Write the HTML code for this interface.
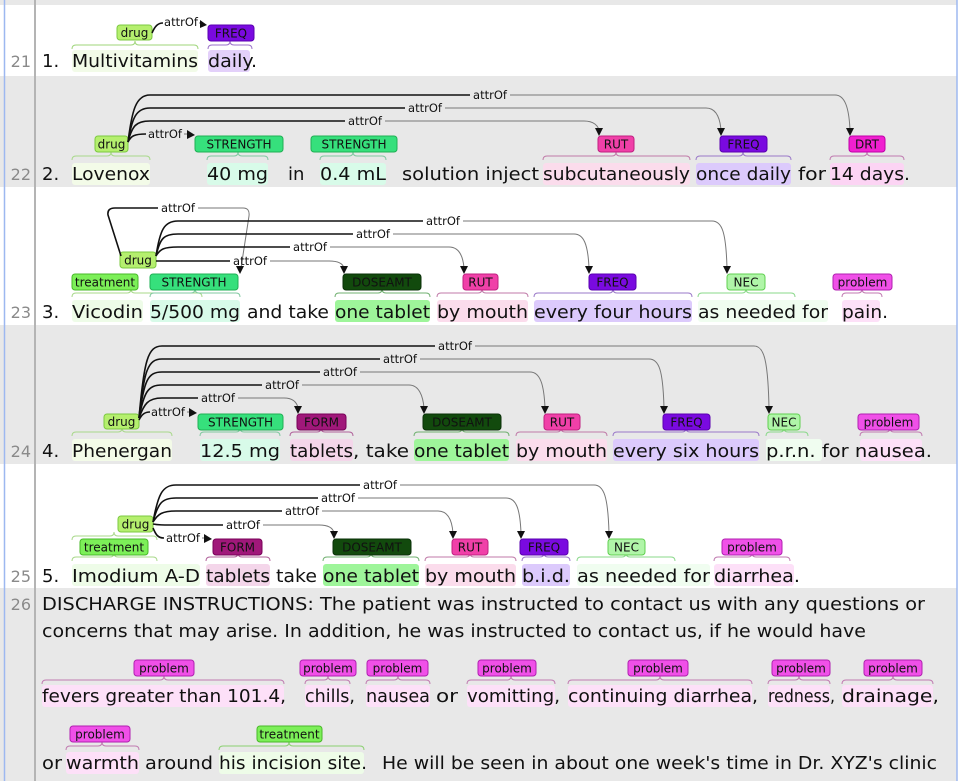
<!DOCTYPE html>
<html><head><meta charset="utf-8"><style>
html,body{margin:0;padding:0;background:#fff;width:975px;height:781px;overflow:hidden}
svg{display:block}
.t{font-family:"DejaVu Sans","Liberation Sans",sans-serif;font-size:18px;fill:#111}
.n{font-family:"DejaVu Sans","Liberation Sans",sans-serif;font-size:16px;fill:#8a8a8a}
.l{font-family:"DejaVu Sans","Liberation Sans",sans-serif;font-size:12px;fill:#111;text-anchor:middle}
.a{font-family:"DejaVu Sans","Liberation Sans",sans-serif;font-size:11.5px;fill:#111;text-anchor:middle}
.b{fill:none;stroke:#111;stroke-width:1.6}
.g{fill:none;stroke:#777;stroke-width:1}
.br{fill:none;stroke-width:1}
</style></head><body>
<svg width="975" height="781" viewBox="0 0 975 781" xmlns="http://www.w3.org/2000/svg">
<rect x="0" y="0" width="975" height="781" fill="#fff"/>
<rect x="0" y="0" width="957" height="5" fill="#e8e8e8"/>
<rect x="0" y="76" width="957" height="111" fill="#e8e8e8"/>
<rect x="0" y="325" width="957" height="139" fill="#e8e8e8"/>
<rect x="0" y="588" width="957" height="193" fill="#e8e8e8"/>
<line x1="4.5" y1="0" x2="4.5" y2="781" stroke="#9db8f0" stroke-width="1.5"/>
<line x1="957" y1="0" x2="957" y2="781" stroke="#9db8f0" stroke-width="1.5"/>
<line x1="35" y1="0" x2="35" y2="781" stroke="#b4b4b4" stroke-width="2"/>

<text class="n" x="31" y="67" text-anchor="end">21</text>
<text class="n" x="31" y="180" text-anchor="end">22</text>
<text class="n" x="31" y="318" text-anchor="end">23</text>
<text class="n" x="31" y="457" text-anchor="end">24</text>
<text class="n" x="31" y="582" text-anchor="end">25</text>
<text class="n" x="31" y="610" text-anchor="end">26</text>

<!-- ROW 21 -->
<rect x="72" y="50" width="126" height="22" fill="#f2fbe8" rx="3"/>
<rect x="208" y="50" width="42" height="22" fill="#e3d0fa" rx="3"/>
<path class="br" stroke="#9fd57a" d="M72 49 Q72 45 76 45 L131 45 Q135 45 135 41 Q135 45 139 45 L194 45 Q198 45 198 49"/>
<path class="br" stroke="#9a70c8" d="M208 49 Q208 45 212 45 L226 45 Q230 45 230 41 Q230 45 234 45 L248 45 Q252 45 252 49"/>
<rect x="117" y="25" width="35" height="15" rx="3" fill="#b5ef6e" stroke="#7cc940"/>
<text class="l" x="134.5" y="37">drug</text>
<rect x="208" y="25" width="46" height="16" rx="3" fill="#7a0ae0" stroke="#5a00b0"/>
<text class="l" x="231" y="37.5">FREQ</text>
<path class="b" d="M152 33 C155 26 158 23 163 23"/>
<text class="a" x="181" y="26">attrOf</text>
<path class="g" d="M199 23 L202 23"/>
<polygon points="200,20 207,25 200,28" fill="#111"/>
<text class="t" x="42" y="67">1.</text>
<text class="t" x="72" y="67" textLength="126" lengthAdjust="spacingAndGlyphs">Multivitamins</text>
<text class="t" x="208" y="67" textLength="49" lengthAdjust="spacingAndGlyphs">daily.</text>

<!-- ROW 22 -->
<rect x="72" y="163" width="78" height="22" fill="#f3fbe8" rx="3"/>
<rect x="207" y="163" width="61" height="22" fill="#d8fbe9" rx="3"/>
<rect x="320" y="163" width="66" height="22" fill="#d8fbe9" rx="3"/>
<rect x="543" y="163" width="147" height="22" fill="#fbdcec" rx="3"/>
<rect x="696" y="163" width="95" height="22" fill="#dccafc" rx="3"/>
<rect x="830" y="163" width="74" height="22" fill="#fcd4f4" rx="3"/>
<path class="br" stroke="#a8d88a" d="M72 160 Q72 156 76 156 L107 156 Q111 156 111 152 Q111 156 115 156 L146 156 Q150 156 150 160"/>
<path class="br" stroke="#80c8a0" d="M207 160 Q207 156 211 156 L234 156 Q238 156 238 152 Q238 156 242 156 L264 156 Q268 156 268 160"/>
<path class="br" stroke="#80c8a0" d="M320 160 Q320 156 324 156 L349 156 Q353 156 353 152 Q353 156 357 156 L382 156 Q386 156 386 160"/>
<path class="br" stroke="#c07aa8" d="M543 160 Q543 156 547 156 L612 156 Q616 156 616 152 Q616 156 620 156 L686 156 Q690 156 690 160"/>
<path class="br" stroke="#9a78c8" d="M696 160 Q696 156 700 156 L739 156 Q743 156 743 152 Q743 156 747 156 L787 156 Q791 156 791 160"/>
<path class="br" stroke="#c07ab0" d="M830 160 Q830 156 834 156 L863 156 Q867 156 867 152 Q867 156 871 156 L900 156 Q904 156 904 160"/>
<rect x="95" y="136" width="33" height="16" rx="3" fill="#b5ef6e" stroke="#7cc940"/>
<text class="l" x="111.5" y="148.5">drug</text>
<rect x="195" y="136" width="88" height="16" rx="3" fill="#36e07c" stroke="#1fb054"/>
<text class="l" x="239" y="148.5">STRENGTH</text>
<rect x="311" y="136" width="86" height="16" rx="3" fill="#36e07c" stroke="#1fb054"/>
<text class="l" x="354" y="148.5">STRENGTH</text>
<rect x="598" y="136" width="36" height="16" rx="3" fill="#f040a8" stroke="#c02080"/>
<text class="l" x="616" y="148.5">RUT</text>
<rect x="720" y="136" width="47" height="16" rx="3" fill="#7a0ae0" stroke="#5a00b0"/>
<text class="l" x="743.5" y="148.5">FREQ</text>
<rect x="849" y="136" width="36" height="16" rx="3" fill="#f020d0" stroke="#c000a8"/>
<text class="l" x="867" y="148.5">DRT</text>
<path class="b" d="M128 142 C132 110 136 95 150 95 L470 95"/>
<text class="a" x="490" y="99">attrOf</text>
<path class="g" d="M510 95 L835 95 C845 95 849 108 850 130"/>
<polygon points="846,128 854,128 850,136" fill="#111"/>
<path class="b" d="M128 142 C132 118 136 108 150 108 L405 108"/>
<text class="a" x="425" y="112">attrOf</text>
<path class="g" d="M445 108 L706 108 C716 108 720 118 721 130"/>
<polygon points="717,128 725,128 721,136" fill="#111"/>
<path class="b" d="M128 142 C132 126 136 121 150 121 L345 121"/>
<text class="a" x="365" y="125">attrOf</text>
<path class="g" d="M385 121 L584 121 C594 121 598 126 599 130"/>
<polygon points="595,128 603,128 599,136" fill="#111"/>
<path class="b" d="M128 142 C131 136 134 134 146 134"/>
<text class="a" x="165" y="138">attrOf</text>
<path class="g" d="M184 134 L188 134"/>
<polygon points="187,130 195,135 187,139" fill="#111"/>
<text class="t" x="42" y="180">2.</text>
<text class="t" x="72" y="180" textLength="78" lengthAdjust="spacingAndGlyphs">Lovenox</text>
<text class="t" x="207" y="180" textLength="61" lengthAdjust="spacingAndGlyphs">40 mg</text>
<text class="t" x="288" y="180">in</text>
<text class="t" x="320" y="180" textLength="66" lengthAdjust="spacingAndGlyphs">0.4 mL</text>
<text class="t" x="402" y="180" textLength="137" lengthAdjust="spacingAndGlyphs">solution inject</text>
<text class="t" x="543" y="180" textLength="147" lengthAdjust="spacingAndGlyphs">subcutaneously</text>
<text class="t" x="696" y="180" textLength="95" lengthAdjust="spacingAndGlyphs">once daily</text>
<text class="t" x="798" y="180" textLength="28" lengthAdjust="spacingAndGlyphs">for</text>
<text class="t" x="830" y="180" textLength="80" lengthAdjust="spacingAndGlyphs">14 days.</text>

<!-- ROW 23 -->
<rect x="72" y="300" width="71" height="22" fill="#eefce8" rx="3"/>
<rect x="150" y="300" width="90" height="22" fill="#d8fbe9" rx="3"/>
<rect x="335" y="300" width="95" height="22" fill="#9ef59a" rx="3"/>
<rect x="437" y="300" width="91" height="22" fill="#fbdcec" rx="3"/>
<rect x="534" y="300" width="158" height="22" fill="#dccafc" rx="3"/>
<rect x="698" y="300" width="130" height="22" fill="#f0fdf0" rx="3"/>
<rect x="842" y="300" width="38" height="22" fill="#fde0f8" rx="3"/>
<path class="br" stroke="#a8d88a" d="M72 297 Q72 293 76 293 L127 293 Q131 293 131 289 Q131 293 135 293 L198 293 Q202 293 202 297"/>
<path class="br" stroke="#80c8a0" d="M150 297 Q150 293 154 293 L191 293 Q195 293 195 289 Q195 293 199 293 L236 293 Q240 293 240 297"/>
<path class="br" stroke="#70b070" d="M335 297 Q335 293 339 293 L378 293 Q382 293 382 289 Q382 293 386 293 L426 293 Q430 293 430 297"/>
<path class="br" stroke="#c07aa8" d="M437 297 Q437 293 441 293 L478 293 Q482 293 482 289 Q482 293 486 293 L524 293 Q528 293 528 297"/>
<path class="br" stroke="#9a78c8" d="M534 297 Q534 293 538 293 L609 293 Q613 293 613 289 Q613 293 617 293 L688 293 Q692 293 692 297"/>
<path class="br" stroke="#8ad88a" d="M698 297 Q698 293 702 293 L742 293 Q746 293 746 289 Q746 293 750 293 L791 293 Q795 293 795 297"/>
<path class="br" stroke="#c07ab0" d="M842 297 Q842 293 846 293 L858 293 Q862 293 862 289 Q862 293 866 293 L878 293 Q882 293 882 297"/>
<rect x="72" y="274" width="66" height="16" rx="3" fill="#7cef58" stroke="#48b828"/>
<text class="l" x="105" y="286.5">treatment</text>
<rect x="120" y="252" width="36" height="16" rx="3" fill="#b5ef6e" stroke="#7cc940"/>
<text class="l" x="138" y="264.5">drug</text>
<rect x="150" y="274" width="88" height="16" rx="3" fill="#36e07c" stroke="#1fb054"/>
<text class="l" x="194" y="286.5">STRENGTH</text>
<rect x="343" y="274" width="78" height="16" rx="3" fill="#124a0d" stroke="#0a3008"/>
<text class="l" x="382" y="286.5">DOSEAMT</text>
<rect x="463" y="274" width="35" height="16" rx="3" fill="#f040a8" stroke="#c02080"/>
<text class="l" x="480.5" y="286.5">RUT</text>
<rect x="589" y="274" width="47" height="16" rx="3" fill="#7a0ae0" stroke="#5a00b0"/>
<text class="l" x="612.5" y="286.5">FREQ</text>
<rect x="727" y="274" width="38" height="16" rx="3" fill="#b0f5a8" stroke="#60d050"/>
<text class="l" x="746" y="286.5">NEC</text>
<rect x="833" y="274" width="59" height="16" rx="3" fill="#f050e8" stroke="#b020b0"/>
<text class="l" x="862.5" y="286.5">problem</text>
<path class="b" d="M121 256 L108 215 Q107 208 115 208 L158 208"/>
<text class="a" x="178" y="212">attrOf</text>
<path class="g" d="M198 208 L243 208 Q250 208 249 216 L241 268"/>
<polygon points="236,266 244,266 240,274" fill="#111"/>
<path class="b" d="M156 256 C160 230 164 221 178 221 L423 221"/>
<text class="a" x="443" y="225">attrOf</text>
<path class="g" d="M463 221 L712 221 C722 221 726 232 727 268"/>
<polygon points="723,266 731,266 727,274" fill="#111"/>
<path class="b" d="M156 256 C160 238 164 234 178 234 L353 234"/>
<text class="a" x="373" y="238">attrOf</text>
<path class="g" d="M393 234 L574 234 C584 234 588 245 589 268"/>
<polygon points="585,266 593,266 589,274" fill="#111"/>
<path class="b" d="M156 256 C160 249 164 247 178 247 L290 247"/>
<text class="a" x="310" y="251">attrOf</text>
<path class="g" d="M330 247 L449 247 C459 247 463 256 464 268"/>
<polygon points="460,266 468,266 464,274" fill="#111"/>
<path class="b" d="M156 261 L230 261"/>
<text class="a" x="250" y="265">attrOf</text>
<path class="g" d="M270 261 L329 261 C339 261 343 264 344 268"/>
<polygon points="340,266 348,266 344,274" fill="#111"/>
<text class="t" x="42" y="318">3.</text>
<text class="t" x="72" y="318" textLength="71" lengthAdjust="spacingAndGlyphs">Vicodin</text>
<text class="t" x="150" y="318" textLength="90" lengthAdjust="spacingAndGlyphs">5/500 mg</text>
<text class="t" x="247" y="318" textLength="82" lengthAdjust="spacingAndGlyphs">and take</text>
<text class="t" x="335" y="318" textLength="95" lengthAdjust="spacingAndGlyphs">one tablet</text>
<text class="t" x="437" y="318" textLength="91" lengthAdjust="spacingAndGlyphs">by mouth</text>
<text class="t" x="534" y="318" textLength="158" lengthAdjust="spacingAndGlyphs">every four hours</text>
<text class="t" x="698" y="318" textLength="130" lengthAdjust="spacingAndGlyphs">as needed for</text>
<text class="t" x="842" y="318" textLength="46" lengthAdjust="spacingAndGlyphs">pain.</text>

<!-- ROW 24 -->
<rect x="72" y="439" width="100" height="22" fill="#f3fbe8" rx="3"/>
<rect x="200" y="439" width="80" height="22" fill="#d8fbe9" rx="3"/>
<rect x="290" y="439" width="63" height="22" fill="#f4d6ea" rx="3"/>
<rect x="414" y="439" width="95" height="22" fill="#9ef59a" rx="3"/>
<rect x="516" y="439" width="91" height="22" fill="#fbdcec" rx="3"/>
<rect x="613" y="439" width="146" height="22" fill="#dccafc" rx="3"/>
<rect x="766" y="439" width="56" height="22" fill="#f0fdf0" rx="3"/>
<rect x="860" y="439" width="62" height="22" fill="#fde0f8" rx="3"/>
<path class="br" stroke="#a8d88a" d="M72 436 Q72 432 76 432 L118 432 Q122 432 122 428 Q122 432 126 432 L168 432 Q172 432 172 436"/>
<path class="br" stroke="#80c8a0" d="M200 436 Q200 432 204 432 L236 432 Q240 432 240 428 Q240 432 244 432 L276 432 Q280 432 280 436"/>
<path class="br" stroke="#b0609a" d="M290 436 Q290 432 294 432 L317 432 Q321 432 321 428 Q321 432 325 432 L349 432 Q353 432 353 436"/>
<path class="br" stroke="#70b070" d="M414 436 Q414 432 418 432 L458 432 Q462 432 462 428 Q462 432 466 432 L505 432 Q509 432 509 436"/>
<path class="br" stroke="#c07aa8" d="M516 436 Q516 432 520 432 L557 432 Q561 432 561 428 Q561 432 565 432 L603 432 Q607 432 607 436"/>
<path class="br" stroke="#9a78c8" d="M613 436 Q613 432 617 432 L682 432 Q686 432 686 428 Q686 432 690 432 L755 432 Q759 432 759 436"/>
<path class="br" stroke="#8ad88a" d="M766 436 Q766 432 770 432 L780 432 Q784 432 784 428 Q784 432 788 432 L804 432 Q808 432 808 436"/>
<path class="br" stroke="#c07ab0" d="M860 436 Q860 432 864 432 L886 432 Q890 432 890 428 Q890 432 894 432 L918 432 Q922 432 922 436"/>
<rect x="104" y="414" width="35" height="15" rx="3" fill="#b5ef6e" stroke="#7cc940"/>
<text class="l" x="121.5" y="426">drug</text>
<rect x="198" y="414" width="85" height="16" rx="3" fill="#36e07c" stroke="#1fb054"/>
<text class="l" x="240.5" y="426.5">STRENGTH</text>
<rect x="297" y="414" width="49" height="16" rx="3" fill="#a0187a" stroke="#780058"/>
<text class="l" x="321.5" y="426.5">FORM</text>
<rect x="423" y="414" width="78" height="16" rx="3" fill="#124a0d" stroke="#0a3008"/>
<text class="l" x="462" y="426.5">DOSEAMT</text>
<rect x="544" y="414" width="36" height="16" rx="3" fill="#f040a8" stroke="#c02080"/>
<text class="l" x="562" y="426.5">RUT</text>
<rect x="663" y="414" width="47" height="16" rx="3" fill="#7a0ae0" stroke="#5a00b0"/>
<text class="l" x="686.5" y="426.5">FREQ</text>
<rect x="768" y="414" width="32" height="16" rx="3" fill="#b0f5a8" stroke="#60d050"/>
<text class="l" x="784" y="426.5">NEC</text>
<rect x="858" y="414" width="61" height="16" rx="3" fill="#f050e8" stroke="#b020b0"/>
<text class="l" x="888.5" y="426.5">problem</text>
<path class="b" d="M139 418 C144 360 148 346 162 346 L435 346"/>
<text class="a" x="455" y="350">attrOf</text>
<path class="g" d="M475 346 L754 346 C764 346 768 360 769 408"/>
<polygon points="765,406 773,406 769,414" fill="#111"/>
<path class="b" d="M139 418 C144 370 148 359 162 359 L380 359"/>
<text class="a" x="400" y="363">attrOf</text>
<path class="g" d="M420 359 L649 359 C659 359 663 370 664 408"/>
<polygon points="660,406 668,406 664,414" fill="#111"/>
<path class="b" d="M139 418 C144 380 148 372 162 372 L320 372"/>
<text class="a" x="340" y="376">attrOf</text>
<path class="g" d="M360 372 L530 372 C540 372 544 384 545 408"/>
<polygon points="541,406 549,406 545,414" fill="#111"/>
<path class="b" d="M139 418 C144 392 148 385 162 385 L262 385"/>
<text class="a" x="282" y="389">attrOf</text>
<path class="g" d="M302 385 L409 385 C419 385 423 396 424 408"/>
<polygon points="420,406 428,406 424,414" fill="#111"/>
<path class="b" d="M139 418 C144 404 148 398 162 398 L198 398"/>
<text class="a" x="218" y="402">attrOf</text>
<path class="g" d="M238 398 L284 398 C294 398 297 403 298 408"/>
<polygon points="294,406 302,406 298,414" fill="#111"/>
<path class="b" d="M139 420 C142 414 145 412 150 412"/>
<text class="a" x="168" y="416">attrOf</text>
<path class="g" d="M187 412 L190 412"/>
<polygon points="189,408 197,413 189,417" fill="#111"/>
<text class="t" x="42" y="457">4.</text>
<text class="t" x="72" y="457" textLength="100" lengthAdjust="spacingAndGlyphs">Phenergan</text>
<text class="t" x="200" y="457" textLength="80" lengthAdjust="spacingAndGlyphs">12.5 mg</text>
<text class="t" x="290" y="457" textLength="63" lengthAdjust="spacingAndGlyphs">tablets</text>
<text class="t" x="353" y="457" textLength="56" lengthAdjust="spacingAndGlyphs">, take</text>
<text class="t" x="414" y="457" textLength="95" lengthAdjust="spacingAndGlyphs">one tablet</text>
<text class="t" x="516" y="457" textLength="91" lengthAdjust="spacingAndGlyphs">by mouth</text>
<text class="t" x="613" y="457" textLength="146" lengthAdjust="spacingAndGlyphs">every six hours</text>
<text class="t" x="766" y="457" textLength="166" lengthAdjust="spacingAndGlyphs">p.r.n. for nausea.</text>

<!-- ROW 25 -->
<rect x="72" y="564" width="128" height="22" fill="#eefce8" rx="3"/>
<rect x="206" y="564" width="64" height="22" fill="#f4d6ea" rx="3"/>
<rect x="323" y="564" width="96" height="22" fill="#9ef59a" rx="3"/>
<rect x="425" y="564" width="91" height="22" fill="#fbdcec" rx="3"/>
<rect x="522" y="564" width="48" height="22" fill="#dccafc" rx="3"/>
<rect x="577" y="564" width="133" height="22" fill="#f0fdf0" rx="3"/>
<rect x="714" y="564" width="80" height="22" fill="#fde0f8" rx="3"/>
<path class="br" stroke="#a8d88a" d="M72 561 Q72 557 76 557 L110 557 Q114 557 114 553 Q114 557 118 557 L153 557 Q157 557 157 561"/>
<path class="br" stroke="#a8d88a" d="M72 540 Q72 536 76 536 L110 536 Q114 536 114 532 Q114 536 118 536 L153 536 Q157 536 157 540"/>
<path class="br" stroke="#b0609a" d="M206 561 Q206 557 210 557 L234 557 Q238 557 238 553 Q238 557 242 557 L266 557 Q270 557 270 561"/>
<path class="br" stroke="#70b070" d="M323 561 Q323 557 327 557 L367 557 Q371 557 371 553 Q371 557 375 557 L415 557 Q419 557 419 561"/>
<path class="br" stroke="#c07aa8" d="M425 561 Q425 557 429 557 L466 557 Q470 557 470 553 Q470 557 474 557 L512 557 Q516 557 516 561"/>
<path class="br" stroke="#9a78c8" d="M522 561 Q522 557 526 557 L540 557 Q544 557 544 553 Q544 557 548 557 L566 557 Q570 557 570 561"/>
<path class="br" stroke="#8ad88a" d="M577 561 Q577 557 581 557 L622 557 Q626 557 626 553 Q626 557 630 557 L671 557 Q675 557 675 561"/>
<path class="br" stroke="#c07ab0" d="M714 561 Q714 557 718 557 L748 557 Q752 557 752 553 Q752 557 756 557 L786 557 Q790 557 790 561"/>
<rect x="118" y="516" width="35" height="16" rx="3" fill="#b5ef6e" stroke="#7cc940"/>
<text class="l" x="135.5" y="528.5">drug</text>
<rect x="80" y="539" width="68" height="16" rx="3" fill="#7cef58" stroke="#48b828"/>
<text class="l" x="114" y="551.5">treatment</text>
<rect x="213" y="539" width="49" height="16" rx="3" fill="#a0187a" stroke="#780058"/>
<text class="l" x="237.5" y="551.5">FORM</text>
<rect x="333" y="539" width="78" height="16" rx="3" fill="#124a0d" stroke="#0a3008"/>
<text class="l" x="372" y="551.5">DOSEAMT</text>
<rect x="452" y="539" width="36" height="16" rx="3" fill="#f040a8" stroke="#c02080"/>
<text class="l" x="470" y="551.5">RUT</text>
<rect x="520" y="539" width="48" height="16" rx="3" fill="#7a0ae0" stroke="#5a00b0"/>
<text class="l" x="544" y="551.5">FREQ</text>
<rect x="608" y="539" width="37" height="16" rx="3" fill="#b0f5a8" stroke="#60d050"/>
<text class="l" x="626.5" y="551.5">NEC</text>
<rect x="722" y="539" width="60" height="16" rx="3" fill="#f050e8" stroke="#b020b0"/>
<text class="l" x="752" y="551.5">problem</text>
<path class="b" d="M153 522 C158 495 162 485 176 485 L360 485"/>
<text class="a" x="380" y="489">attrOf</text>
<path class="g" d="M400 485 L594 485 C604 485 608 497 609 533"/>
<polygon points="605,531 613,531 609,539" fill="#111"/>
<path class="b" d="M153 522 C158 503 162 498 176 498 L318 498"/>
<text class="a" x="338" y="502">attrOf</text>
<path class="g" d="M358 498 L506 498 C516 498 520 508 521 533"/>
<polygon points="517,531 525,531 521,539" fill="#111"/>
<path class="b" d="M153 522 C158 514 162 511 176 511 L282 511"/>
<text class="a" x="302" y="515">attrOf</text>
<path class="g" d="M322 511 L438 511 C448 511 452 520 453 533"/>
<polygon points="449,531 457,531 453,539" fill="#111"/>
<path class="b" d="M153 524 C158 525 162 525 176 525 L223 525"/>
<text class="a" x="243" y="529">attrOf</text>
<path class="g" d="M263 525 L319 525 C329 525 333 528 334 533"/>
<polygon points="330,531 338,531 334,539" fill="#111"/>
<path class="b" d="M153 528 C156 535 158 538 164 538"/>
<text class="a" x="183" y="542">attrOf</text>
<path class="g" d="M202 538 L204 538"/>
<polygon points="204,534 212,539 204,543" fill="#111"/>
<text class="t" x="42" y="582">5.</text>
<text class="t" x="72" y="582" textLength="128" lengthAdjust="spacingAndGlyphs">Imodium A-D</text>
<text class="t" x="206" y="582" textLength="64" lengthAdjust="spacingAndGlyphs">tablets</text>
<text class="t" x="276" y="582" textLength="41" lengthAdjust="spacingAndGlyphs">take</text>
<text class="t" x="323" y="582" textLength="96" lengthAdjust="spacingAndGlyphs">one tablet</text>
<text class="t" x="425" y="582" textLength="91" lengthAdjust="spacingAndGlyphs">by mouth</text>
<text class="t" x="522" y="582" textLength="48" lengthAdjust="spacingAndGlyphs">b.i.d.</text>
<text class="t" x="577" y="582" textLength="133" lengthAdjust="spacingAndGlyphs">as needed for</text>
<text class="t" x="714" y="582" textLength="86" lengthAdjust="spacingAndGlyphs">diarrhea.</text>

<!-- ROW 26 -->
<text class="t" x="42" y="610" textLength="883" lengthAdjust="spacingAndGlyphs">DISCHARGE INSTRUCTIONS:  The patient was instructed to contact us with any questions or</text>
<text class="t" x="42" y="637" textLength="824" lengthAdjust="spacingAndGlyphs">concerns that may arise.  In addition, he was instructed to contact us, if he would have</text>
<rect x="42" y="685" width="242" height="22" fill="#fde0f8" rx="3"/>
<rect x="305" y="685" width="45" height="22" fill="#fde0f8" rx="3"/>
<rect x="366" y="685" width="64" height="22" fill="#fde0f8" rx="3"/>
<rect x="467" y="685" width="88" height="22" fill="#fde0f8" rx="3"/>
<rect x="568" y="685" width="184" height="22" fill="#fde0f8" rx="3"/>
<rect x="768" y="685" width="62" height="22" fill="#fde0f8" rx="3"/>
<rect x="842" y="685" width="91" height="22" fill="#fde0f8" rx="3"/>
<path class="br" stroke="#c07ab0" d="M42 684 Q42 680 46 680 L160 680 Q164 680 164 676 Q164 680 168 680 L280 680 Q284 680 284 684"/>
<path class="br" stroke="#c07ab0" d="M305 684 Q305 680 309 680 L324 680 Q328 680 328 676 Q328 680 332 680 L346 680 Q350 680 350 684"/>
<path class="br" stroke="#c07ab0" d="M366 684 Q366 680 370 680 L394 680 Q398 680 398 676 Q398 680 402 680 L426 680 Q430 680 430 684"/>
<path class="br" stroke="#c07ab0" d="M467 684 Q467 680 471 680 L507 680 Q511 680 511 676 Q511 680 515 680 L551 680 Q555 680 555 684"/>
<path class="br" stroke="#c07ab0" d="M568 684 Q568 680 572 680 L656 680 Q660 680 660 676 Q660 680 664 680 L748 680 Q752 680 752 684"/>
<path class="br" stroke="#c07ab0" d="M768 684 Q768 680 772 680 L795 680 Q799 680 799 676 Q799 680 803 680 L826 680 Q830 680 830 684"/>
<path class="br" stroke="#c07ab0" d="M842 684 Q842 680 846 680 L889 680 Q893 680 893 676 Q893 680 897 680 L929 680 Q933 680 933 684"/>
<rect x="134" y="660" width="60" height="16" rx="3" fill="#f050e8" stroke="#b020b0"/>
<text class="l" x="164" y="672.5">problem</text>
<rect x="300" y="660" width="56" height="16" rx="3" fill="#f050e8" stroke="#b020b0"/>
<text class="l" x="328" y="672.5">problem</text>
<rect x="367" y="660" width="61" height="16" rx="3" fill="#f050e8" stroke="#b020b0"/>
<text class="l" x="397.5" y="672.5">problem</text>
<rect x="478" y="660" width="58" height="16" rx="3" fill="#f050e8" stroke="#b020b0"/>
<text class="l" x="507" y="672.5">problem</text>
<rect x="628" y="660" width="60" height="16" rx="3" fill="#f050e8" stroke="#b020b0"/>
<text class="l" x="658" y="672.5">problem</text>
<rect x="772" y="660" width="58" height="16" rx="3" fill="#f050e8" stroke="#b020b0"/>
<text class="l" x="801" y="672.5">problem</text>
<rect x="864" y="660" width="58" height="16" rx="3" fill="#f050e8" stroke="#b020b0"/>
<text class="l" x="893" y="672.5">problem</text>
<text class="t" x="42" y="702" textLength="244" lengthAdjust="spacingAndGlyphs">fevers greater than 101.4,</text>
<text class="t" x="305" y="702" textLength="50" lengthAdjust="spacingAndGlyphs">chills,</text>
<text class="t" x="366" y="702" textLength="64" lengthAdjust="spacingAndGlyphs">nausea</text>
<text class="t" x="436" y="702" textLength="22" lengthAdjust="spacingAndGlyphs">or</text>
<text class="t" x="467" y="702" textLength="93" lengthAdjust="spacingAndGlyphs">vomitting,</text>
<text class="t" x="568" y="702" textLength="190" lengthAdjust="spacingAndGlyphs">continuing diarrhea,</text>
<text class="t" x="768" y="702" textLength="67" lengthAdjust="spacingAndGlyphs">redness,</text>
<text class="t" x="842" y="702" textLength="97" lengthAdjust="spacingAndGlyphs">drainage,</text>
<rect x="66" y="752" width="73" height="22" fill="#fde0f8" rx="3"/>
<rect x="219" y="752" width="145" height="22" fill="#eefce8" rx="3"/>
<path class="br" stroke="#c07ab0" d="M66 750 Q66 746 70 746 L98 746 Q102 746 102 742 Q102 746 106 746 L135 746 Q139 746 139 750"/>
<path class="br" stroke="#8ad070" d="M219 750 Q219 746 223 746 L285 746 Q289 746 289 742 Q289 746 293 746 L360 746 Q364 746 364 750"/>
<rect x="70" y="726" width="60" height="16" rx="3" fill="#f050e8" stroke="#b020b0"/>
<text class="l" x="100" y="738.5">problem</text>
<rect x="257" y="726" width="65" height="16" rx="3" fill="#7cef58" stroke="#48b828"/>
<text class="l" x="289.5" y="738.5">treatment</text>
<text class="t" x="42" y="769" textLength="20" lengthAdjust="spacingAndGlyphs">or</text>
<text class="t" x="66" y="769" textLength="73" lengthAdjust="spacingAndGlyphs">warmth</text>
<text class="t" x="145" y="769" textLength="68" lengthAdjust="spacingAndGlyphs">around</text>
<text class="t" x="219" y="769" textLength="148" lengthAdjust="spacingAndGlyphs">his incision site.</text>
<text class="t" x="382" y="769" textLength="555" lengthAdjust="spacingAndGlyphs">He will be seen in about one week's time in Dr. XYZ's clinic</text>
</svg>
</body></html>
